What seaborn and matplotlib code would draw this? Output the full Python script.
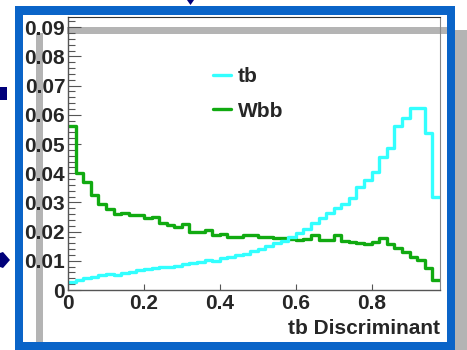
import numpy as np
import pandas as pd
import matplotlib
matplotlib.use("Agg")
import matplotlib.pyplot as plt
import seaborn as sns
from matplotlib.patches import Rectangle, Polygon
from matplotlib.ticker import MultipleLocator, FuncFormatter

# Histogram data (bin width 0.02, range 0 - 0.98)
bin_width = 0.02
bin_range = (0.0, 0.98)
tb_values = [0.0028, 0.0033, 0.0040, 0.0045, 0.0050, 0.0055, 0.0052, 0.0058, 0.0062, 0.0068,
             0.0072, 0.0074, 0.0078, 0.0080, 0.0082, 0.0088, 0.0092, 0.0097, 0.0102, 0.0100,
             0.0108, 0.0112, 0.0120, 0.0125, 0.0132, 0.0142, 0.0150, 0.0160, 0.0168, 0.0180,
             0.0194, 0.0210, 0.0228, 0.0245, 0.0263, 0.0280, 0.0295, 0.0314, 0.0354, 0.0377,
             0.0405, 0.0457, 0.0485, 0.0560, 0.0588, 0.0622, 0.0622, 0.0539, 0.0320]
wbb_values = [0.0560, 0.0400, 0.0370, 0.0325, 0.0295, 0.0277, 0.0260, 0.0265, 0.0257, 0.0257,
              0.0245, 0.0250, 0.0230, 0.0222, 0.0217, 0.0225, 0.0200, 0.0200, 0.0205, 0.0190,
              0.0192, 0.0180, 0.0180, 0.0188, 0.0190, 0.0180, 0.0180, 0.0177, 0.0177, 0.0174,
              0.0170, 0.0174, 0.0190, 0.0170, 0.0170, 0.0190, 0.0168, 0.0166, 0.0160, 0.0157,
              0.0165, 0.0177, 0.0158, 0.0143, 0.0131, 0.0114, 0.0104, 0.0076, 0.0035]
series_names = ["tb", "Wbb"]
series_colors = {"tb": "#33ffff", "Wbb": "#11aa11"}

centers = bin_range[0] + bin_width * (np.arange(len(tb_values)) + 0.5)
df = pd.concat([
    pd.DataFrame({"x": centers, "w": tb_values, "sample": "tb"}),
    pd.DataFrame({"x": centers, "w": wbb_values, "sample": "Wbb"}),
], ignore_index=True)

sns.set_style("ticks")
plt.rcParams["font.family"] = ["Liberation Sans", "DejaVu Sans"]
plt.rcParams["font.weight"] = "bold"

W, H = 467, 350
fig = plt.figure(figsize=(W / 100, H / 100), dpi=100)
fig.patch.set_facecolor("white")


def px_rect(x0, y0, x1, y1, color, z):
    # rectangle given in pixel coords (origin top-left)
    fig.patches.append(Rectangle((x0 / W, 1 - y1 / H), (x1 - x0) / W, (y1 - y0) / H,
                                 transform=fig.transFigure, facecolor=color,
                                 edgecolor="none", zorder=z))


def px_poly(points, color, z):
    pts = [(x / W, 1 - y / H) for x, y in points]
    fig.patches.append(Polygon(pts, closed=True, transform=fig.transFigure,
                               facecolor=color, edgecolor="none", zorder=z))


# slide decorations
gray = "#b4b4b4"
blue = "#0a64c8"
navy = "#00007a"
px_rect(455, 30, 467, 350, gray, -2)
px_rect(446, 30, 467, 34, gray, -2)
px_rect(67, 27, 447, 34, gray, -2)
px_rect(36, 33, 43, 342, gray, -2)
px_rect(15, 6, 455, 15, blue, 1)
px_rect(15, 342, 455, 350, blue, 1)
px_rect(15, 6, 23, 350, blue, 1)
px_rect(447, 6, 455, 350, blue, 1)
px_rect(0, 87, 7, 100, navy, 1)
px_poly([(0, 253), (3, 252), (10, 260), (3, 268), (0, 267)], navy, 1)
px_poly([(187, 0), (194, 0), (190.5, 5)], navy, 1)

ax = fig.add_axes([68 / W, 1 - 290 / H, (440 - 68) / W, (290 - 17) / H])
ax.patch.set_visible(False)

sns.histplot(data=df, x="x", weights="w", hue="sample", binwidth=bin_width,
             binrange=bin_range, element="step", fill=False, palette=series_colors,
             linewidth=2.4, legend=False, ax=ax)

ax.set_xlim(0, 0.98)
ax.set_ylim(0, 0.0935)
ax.xaxis.set_major_locator(MultipleLocator(0.2))
ax.yaxis.set_major_locator(MultipleLocator(0.01))
ax.yaxis.set_minor_locator(MultipleLocator(0.002))
fmt = FuncFormatter(lambda v, p: "0" if abs(v) < 1e-9 else f"{v:g}")
ax.xaxis.set_major_formatter(fmt)
ax.yaxis.set_major_formatter(fmt)

ax.tick_params(axis="y", which="major", direction="in", length=9.5, width=0.8,
               color="#555555", labelsize=15, pad=2)
ax.tick_params(axis="y", which="minor", direction="in", length=5, width=0.8, color="#555555")
ax.tick_params(axis="x", which="major", direction="in", length=4.5, width=0.8,
               color="#555555", labelsize=15, pad=3)
for lab in ax.get_xticklabels() + ax.get_yticklabels():
    lab.set_fontweight("bold")

for side in ["left", "bottom"]:
    ax.spines[side].set_color("#555555")
    ax.spines[side].set_linewidth(1.0)
ax.spines["top"].set_color("#333333")
ax.spines["top"].set_linewidth(0.8)
ax.spines["right"].set_color("#888888")
ax.spines["right"].set_linewidth(0.8)

ax.set_ylabel("")
ax.set_xlabel("tb Discriminant", fontsize=15, fontweight="bold", loc="right", labelpad=4)

# legend
handles = [plt.Line2D([], [], color=series_colors[n], lw=2.4) for n in series_names]
leg = ax.legend(handles, series_names, loc="upper left", bbox_to_anchor=(0.34, 0.885),
                frameon=False, handlelength=0.85, handletextpad=0.35, labelspacing=0.75,
                prop={"size": 15, "weight": "bold"})

fig.savefig("out.png", dpi=100)
